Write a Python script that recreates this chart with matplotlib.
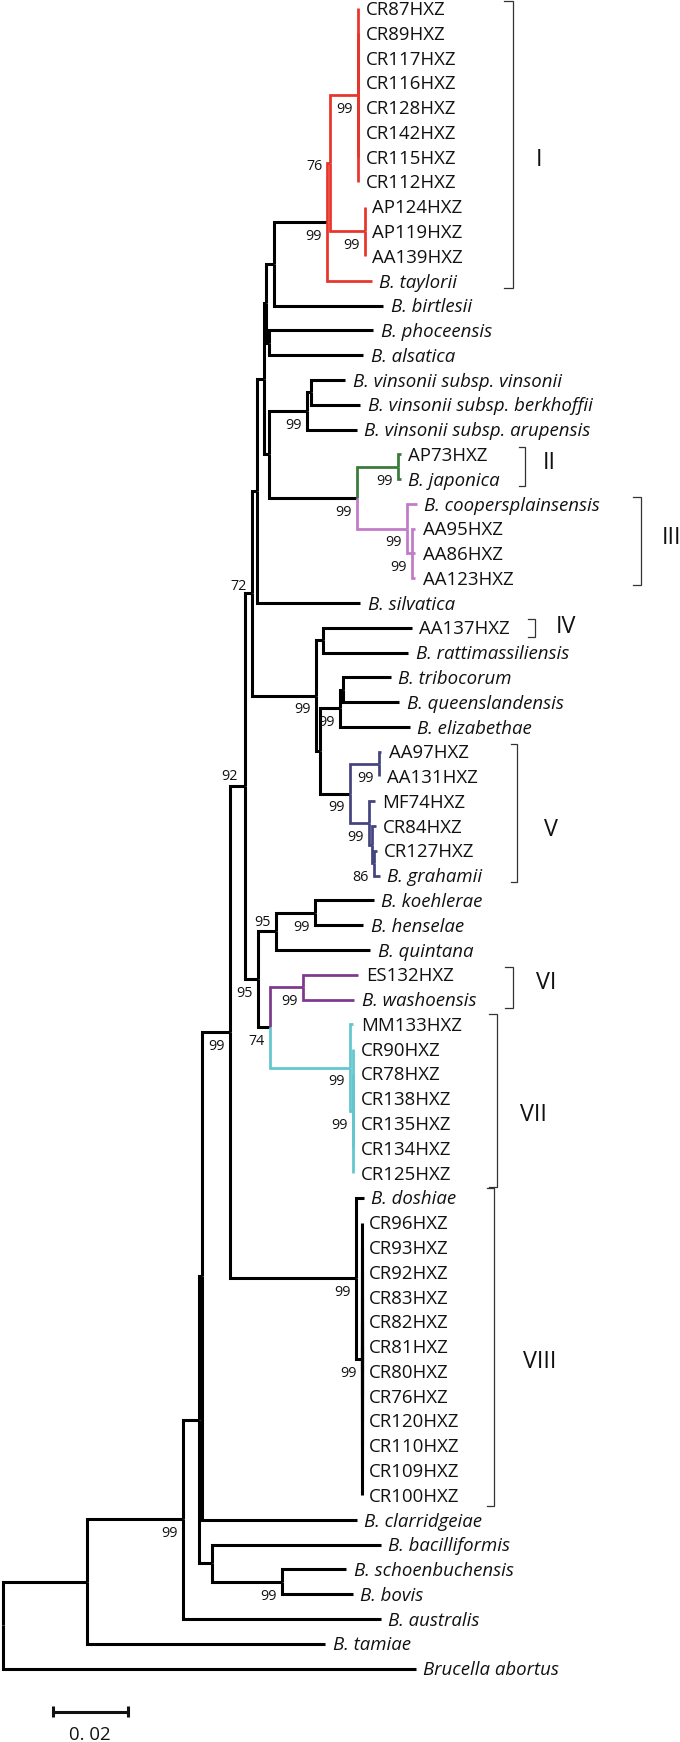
import matplotlib
matplotlib.use("Agg")
import matplotlib.pyplot as plt

# ---------------- data ----------------
leaf_names = [
    "CR87HXZ", "CR89HXZ", "CR117HXZ", "CR116HXZ", "CR128HXZ", "CR142HXZ", "CR115HXZ", "CR112HXZ",
    "AP124HXZ", "AP119HXZ", "AA139HXZ", "B. taylorii", "B. birtlesii", "B. phoceensis", "B. alsatica",
    "B. vinsonii subsp. vinsonii", "B. vinsonii subsp. berkhoffii", "B. vinsonii subsp. arupensis",
    "AP73HXZ", "B. japonica", "B. coopersplainsensis", "AA95HXZ", "AA86HXZ", "AA123HXZ",
    "B. silvatica", "AA137HXZ", "B. rattimassiliensis", "B. tribocorum", "B. queenslandensis",
    "B. elizabethae", "AA97HXZ", "AA131HXZ", "MF74HXZ", "CR84HXZ", "CR127HXZ", "B. grahamii",
    "B. koehlerae", "B. henselae", "B. quintana", "ES132HXZ", "B. washoensis", "MM133HXZ",
    "CR90HXZ", "CR78HXZ", "CR138HXZ", "CR135HXZ", "CR134HXZ", "CR125HXZ", "B. doshiae",
    "CR96HXZ", "CR93HXZ", "CR92HXZ", "CR83HXZ", "CR82HXZ", "CR81HXZ", "CR80HXZ", "CR76HXZ",
    "CR120HXZ", "CR110HXZ", "CR109HXZ", "CR100HXZ", "B. clarridgeiae", "B. bacilliformis",
    "B. schoenbuchensis", "B. bovis", "B. australis", "B. tamiae", "Brucella abortus",
]
leaf_parent = (
    ["I_CR"] * 8 + ["I_AP"] * 3 + ["R1", "G1", "P", "P", "VIN2", "VIN2", "VIN", "II", "II", "III"]
    + ["III2"] * 3 + ["S", "IV", "IV", "TQ", "TQ", "TQE", "V_AA", "V_AA", "M1", "M2", "M3", "M3",
                      "KH", "KH", "KHQ", "VI", "VI", "VII"]
    + ["VII2"] * 6 + ["VIII"] + ["VIII2"] * 12
    + ["C2", "BSB", "SB", "SB", "B", "A", "root"]
)
leaf_depth = (
    [0.09483] * 8 + [0.09661] * 3
    + [0.09840, 0.10149, 0.09883, 0.09616, 0.09128, 0.09528, 0.09440, 0.10621, 0.10621, 0.11040]
    + [0.10995] * 3
    + [0.09528, 0.10907, 0.10816, 0.10347, 0.10576, 0.10861, 0.10101, 0.10035, 0.09928, 0.09949,
       0.09976, 0.10048, 0.09901, 0.09616, 0.09795, 0.09483, 0.09368, 0.09349]
    + [0.09349] * 6 + [0.09624] + [0.09573] * 12
    + [0.09448, 0.10088, 0.09163, 0.09336, 0.10088, 0.08595, 0.11011]
)

node_names = ["root", "A", "B", "C", "C2", "Z", "U", "T", "S", "Q", "G2", "G1", "R1", "R2",
              "I_CR", "I_AP", "P", "P2", "VIN", "VIN2", "X", "II", "III", "III2", "W", "IV",
              "W2", "TQE", "TQ", "V", "V_AA", "M1", "M2", "M3", "Y2", "KHQ", "KH", "N74", "VI",
              "VII", "VII2", "VIII", "VIII2", "BSB", "SB"]
node_parent = [None, "root", "A", "B", "C", "C2", "Z", "U", "T", "S", "Q", "G2", "G1", "R1",
               "R2", "R2", "G2", "Q", "P2", "VIN", "P2", "X", "X", "III", "T", "W",
               "W", "W2", "TQE", "W2", "V", "V", "M1", "M2", "U", "Y2", "KHQ", "Y2", "N74",
               "N74", "VII", "Z", "VIII", "C", "BSB"]
node_depth = [0.0, 0.02256, 0.04816, 0.05243, 0.05307, 0.06061, 0.06461, 0.06640, 0.06773,
              0.06955, 0.07021, 0.07235, 0.08640, 0.08728, 0.09483, 0.09661, 0.07109, 0.07109,
              0.08107, 0.08213, 0.09440, 0.10549, 0.10789, 0.10915, 0.08347, 0.08549, 0.08461,
              0.08995, 0.09067, 0.09261, 0.10043, 0.09776, 0.09840, 0.09901, 0.06816, 0.07288,
              0.08328, 0.07128, 0.08016, 0.09261, 0.09349, 0.09421, 0.09573, 0.05573, 0.07448]

bootstrap = {"I_CR": 99, "R2": 76, "R1": 99, "I_AP": 99, "VIN": 99, "II": 99, "X": 99, "III": 99,
             "III2": 99, "T": 72, "W": 99, "TQE": 99, "U": 92, "V_AA": 99, "V": 99, "M1": 99,
             "M3": 86, "KH": 99, "KHQ": 95, "Y2": 95, "VI": 99, "N74": 74, "Z": 99, "VII": 99,
             "VII2": 99, "VIII": 99, "VIII2": 99, "B": 99, "SB": 99}

group_labels = ["I", "II", "III", "IV", "V", "VI", "VII", "VIII"]
group_first = [0, 18, 20, 25, 30, 39, 41, 48]
group_last = [11, 19, 23, 25, 35, 40, 47, 60]

scale_value = 0.02
scale_label = "0. 02"

# ---------------- style ----------------
W, H = 680, 1742
PX_PER_UNIT = 3750.0
ROOT_PX = 2.7
TOP_PX = 8.3
ROW_PX = 24.78
PT = 0.72  # points per pixel at dpi 100
FONT = "Open Sans"
TXT = "#111111"
LW = 2.2

clade_color = {"R1": ("#e8352b", False), "II": ("#3a7a3a", True), "III": ("#c27bc9", True),
               "V": ("#44447f", False), "VI": ("#7d3a8c", True), "VII": ("#63c6cf", True)}

label_offsets = {"R2": (-7, 1.2), "T": (-4.7, -9), "U": (-7, -11.7), "KHQ": (-5, -10.7)}
DEFAULT_OFF = (-5.3, 12.5)

bracket_x = [513, 524.7, 640.7, 534.6, 517.3, 513, 497, 493.5]
bracket_tick = [9, 6, 7.5, 7, 6.5, 8.5, 8, 6.5]
bracket_pad = [(7, 7), (7.7, 7), (7, 7), (9, 9), (7.4, 6.7), (7.3, 8.7), (10.6, 14), (10, 10.7)]
numeral_xy = [(539, 160), (549, 463.3), (671, 538.3), (566, 626.7), (551, 830), (546, 983.3),
              (533.5, 1115), (540, 1361.7)]

# ---------------- layout ----------------
parent = {}
depth = {}
children = {}
for n, p, d in zip(node_names, node_parent, node_depth):
    parent[n] = p
    depth[n] = d
    if p is not None:
        children.setdefault(p, []).append(n)
ypos = {}
for i, (n, p, d) in enumerate(zip(leaf_names, leaf_parent, leaf_depth)):
    parent[n] = p
    depth[n] = d
    ypos[n] = float(i)
    children.setdefault(p, []).append(n)


def node_y(n):
    if n in ypos:
        return ypos[n]
    ys = [node_y(c) for c in children[n]]
    ypos[n] = (min(ys) + max(ys)) / 2.0
    return ypos[n]


node_y("root")


def edge_color(n):
    if n in clade_color and clade_color[n][1]:
        return clade_color[n][0]
    a = parent[n]
    while a is not None:
        if a in clade_color:
            return clade_color[a][0]
        a = parent[a]
    return "black"


fig = plt.figure(figsize=(W / 100, H / 100), dpi=100)
ax = fig.add_axes([0, 0, 1, 1])
ax.set_xlim(-ROOT_PX / PX_PER_UNIT, (W - ROOT_PX) / PX_PER_UNIT)
ax.set_ylim((H - TOP_PX) / ROW_PX, -TOP_PX / ROW_PX)
ax.axis("off")

# branches
edges = [n for n in parent if parent[n] is not None]
edges.sort(key=lambda n: 0 if edge_color(n) == "black" else 1)
for n in edges:
    p = parent[n]
    c = edge_color(n)
    ax.plot([depth[p], depth[p], depth[n]], [ypos[p], ypos[n], ypos[n]],
            color=c, lw=LW if c == "black" else LW * 0.9,
            solid_capstyle="butt", solid_joinstyle="miter")

# leaf labels
for n in leaf_names:
    italic = not n.endswith("HXZ")
    ax.annotate(n, (depth[n], ypos[n]), xytext=(7.5 * PT, -6.65 * PT), textcoords="offset points",
                ha="left", va="baseline", fontsize=13.4, family=FONT, color=TXT,
                fontstyle="italic" if italic else "normal")

# bootstrap values
for n, v in bootstrap.items():
    dx, dy = label_offsets.get(n, DEFAULT_OFF)
    ax.annotate(str(v), (depth[n], ypos[n]), xytext=(dx * PT, -(dy + 5.3) * PT),
                textcoords="offset points", ha="right", va="baseline", fontsize=10.3,
                family=FONT, color=TXT)


def px2x(px):
    return (px - ROOT_PX) / PX_PER_UNIT


def px2y(py):
    return (py - TOP_PX) / ROW_PX


# group brackets
for lab, f, l, bx, tk, pad, (nx, ny) in zip(group_labels, group_first, group_last, bracket_x,
                                             bracket_tick, bracket_pad, numeral_xy):
    y0 = px2y(TOP_PX + f * ROW_PX - pad[0])
    y1 = px2y(TOP_PX + l * ROW_PX + pad[1])
    ax.plot([px2x(bx - tk), px2x(bx), px2x(bx), px2x(bx - tk)], [y0, y0, y1, y1],
            color="#333333", lw=0.9, solid_joinstyle="miter")
    ax.text(px2x(nx), px2y(ny), lab, ha="center", va="center", fontsize=16.8, family=FONT,
            color=TXT, fontweight="normal")

# scale bar
sx0 = px2x(52.7)
sy = px2y(1711.7)
ax.plot([sx0, sx0 + scale_value], [sy, sy], color="#111111", lw=2.2, solid_capstyle="butt")
for xx in (sx0, sx0 + scale_value):
    ax.plot([xx, xx], [sy - 5.7 / ROW_PX, sy + 5.7 / ROW_PX], color="#111111", lw=2.2,
            solid_capstyle="butt")
ax.text(sx0 + scale_value / 2, px2y(1735), scale_label, ha="center", va="center",
        fontsize=13.4, family=FONT, color=TXT)

fig.savefig("out.png", dpi=100)
